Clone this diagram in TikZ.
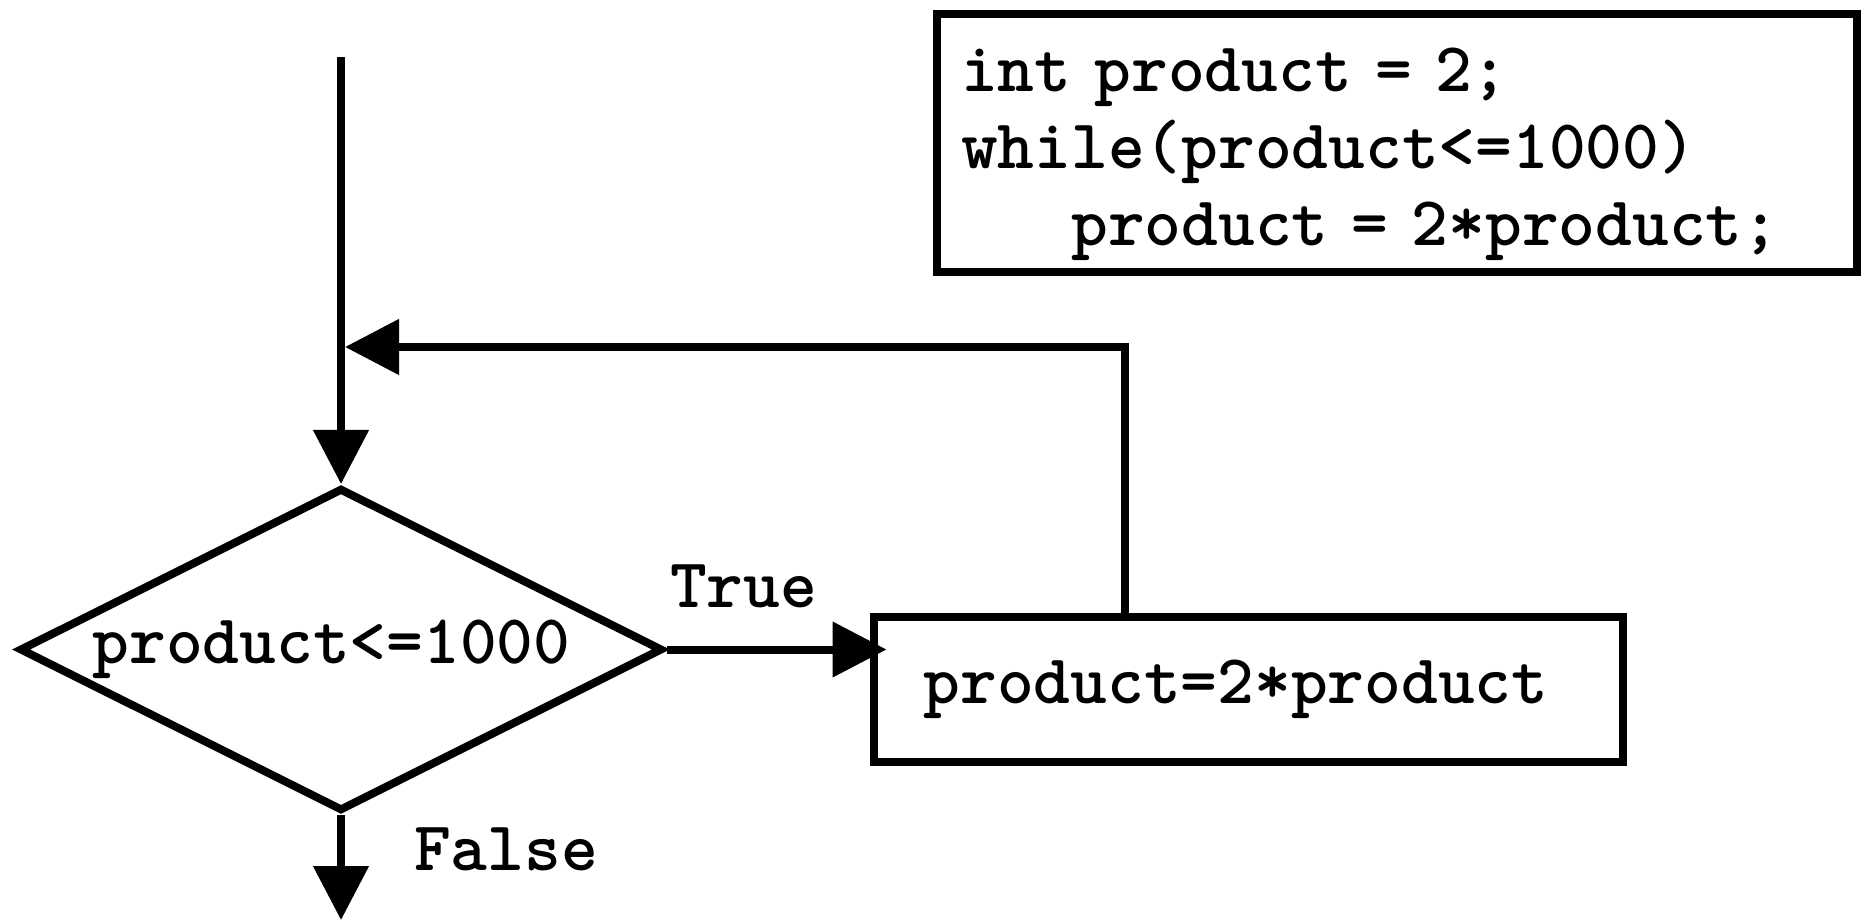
\documentclass[tikz,border=0pt]{standalone}
\usepackage{fontspec}
\newfontfamily\flowfont{lmmonolt10-bold.otf}
\usetikzlibrary{positioning, shapes, arrows.meta}

\begin{document}
\begin{tikzpicture}[x=0.5pt, y=-0.5pt,
                    font=\fontsize{35}{38.5}\selectfont\flowfont,
                    decision/.style={diamond, draw, line width=4pt, inner sep=0pt, shape aspect=2, minimum width=321.5pt, minimum height=161.5pt},
                    block/.style={rectangle, draw, line width=4pt, align=left, text width=324.5pt, inner xsep=25pt, minimum height=72.5pt},
                    codebox/.style={rectangle, draw, line width=4pt, align=left, text width=436pt, minimum height=129pt, inner xsep=12pt},
                    tag/.style={inner sep=0pt},
                    flow/.style={-{Triangle[length=27pt, width=27pt]}, line width=4pt}]

    \useasboundingbox (0,0) rectangle (1861,920);

    % Nodes
    \node[decision] (cond) at (341,649.5) {product<=1000\hspace*{9.5pt}};
    \node[block, right=101.5pt of cond, yshift=-20pt] (body) {product=2*product};
    \node[codebox, anchor=north west] (prog) at (933,10)
        {\rule{0pt}{33pt}int product = 2;\\
         while(product<=1000)\\
         \hspace*{1.575em}product = 2*product;};

    \coordinate (start) at (341,57);
    \coordinate (merge) at (341,347);
    \coordinate (turn) at (1125,347);
    \coordinate (exit) at (341,920);

    % Paths
    \draw[flow] (start) -- (cond);
    \draw[flow] (cond.east) -- ([xshift=8.5pt]cond.east -| body.west) node[tag, pos=0.35, above=19pt] {True};
    \draw[flow] (cond.south) -- (exit) node[tag, pos=0.33, right=34.5pt] {False};
    \draw[flow] (body.north -| turn) -- (turn) -- ([xshift=2pt]merge);

\end{tikzpicture}
\end{document}
